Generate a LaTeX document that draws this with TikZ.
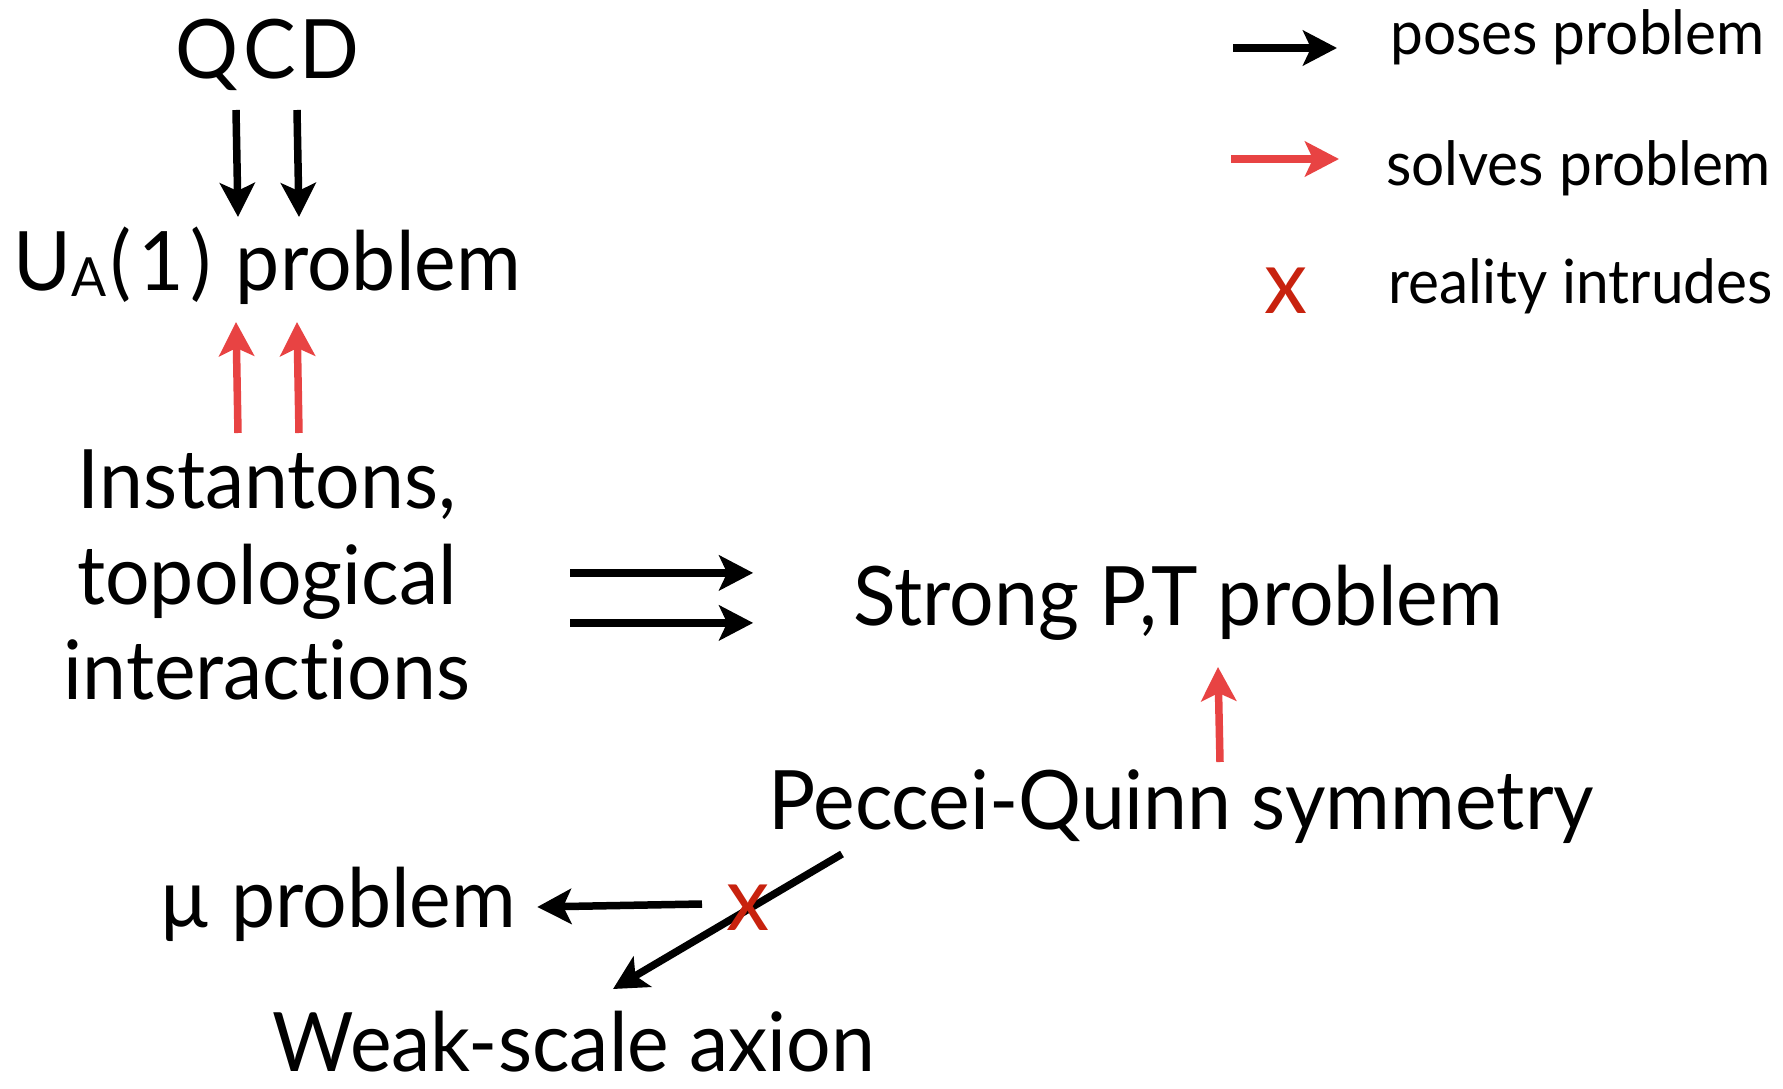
\documentclass[tikz,border=0pt]{standalone}
\usepackage{fontspec}
\setmainfont[FakeStretch=0.96, Ligatures=NoCommon]{Lato}
\usetikzlibrary{arrows.meta,calc}
\definecolor{solvered}{RGB}{232,67,67}
\definecolor{crossred}{RGB}{200,34,14}

\begin{document}
\begin{tikzpicture}[x=1pt, y=-1pt,
    term/.style={inner sep=0pt, font=\fontsize{82}{95.5}\selectfont},
    legendtext/.style={inner sep=0pt, anchor=base west, font=\fontsize{61}{70}\selectfont},
    crossmark/.style={inner sep=0pt, text=crossred, font=\fontsize{90}{90}\selectfont},
    posesarrow/.style={line width=7.5pt, -{Stealth[length=34pt, width=35pt, inset=8pt]}},
    solvesarrow/.style={posesarrow, draw=solvered}
  ]
  \useasboundingbox (0,0) rectangle (1783,1089);

  \node[term, anchor=base] (qcd) at (267.5,79) {Q\kern5pt C\kern4pt D};
  \node[term, anchor=base] (ua) at (267,290) {U\raisebox{-6pt}{\fontsize{54}{54}\selectfont A}\kern4pt(\kern7pt 1\kern7pt)\kern4pt\ problem};
  \node[term, anchor=north, align=center] (inst) at (267,450) {Instantons,\\topological\\interactions};
  \node[term, anchor=base] (strong) at (1178,625) {Strong P,T problem};
  \node[term, anchor=base] (pq) at (1181,829) {Peccei-Quinn symmetry};
  \node[term, anchor=base] (mu) at (338,927) {µ problem};
  \node[term, anchor=base] (weak) at (574,1071) {Weak-scale axion};
  \coordinate (blockpos) at (748,908);

  \node[legendtext] (lpose) at (1390,55) {poses problem};
  \node[legendtext] (lsolve) at (1386,185) {solves problem};
  \node[legendtext] (lreal) at (1388,303) {reality intrudes};

  \draw[posesarrow] ($(qcd.base)+(-31.5,31)$) -- ($(ua.base)+(-29,-73)$);
  \draw[posesarrow] ($(qcd.base)+(29.5,31)$) -- ($(ua.base)+(32,-73)$);
  \draw[solvesarrow] ($(inst.north)+(-29,-17)$) -- ($(ua.base)+(-31,32)$);
  \draw[solvesarrow] ($(inst.north)+(32,-17)$) -- ($(ua.base)+(30,32)$);

  \draw[posesarrow] ($(inst.east)+(100,-2.5)$) coordinate (d1) -- ($(strong.west |- d1)+(-100,0)$);
  \draw[posesarrow] ($(inst.east)+(100,47.5)$) coordinate (d2) -- ($(strong.west |- d2)+(-100,0)$);

  \draw[solvesarrow] ($(pq.base)+(39,-67)$) -- ($(strong.base)+(40,42)$);
  \draw[posesarrow] ($(blockpos)+(-46,-4)$) -- ($(mu.base east)+(21,-20)$);
  \draw[posesarrow] ($(pq.base west)+(74,25)$) -- ($(weak.base)+(39,-82)$);
  \node[crossmark] (block) at (blockpos) {x};

  \draw[posesarrow] ($(lpose.base west)+(-157,-7)$) -- ($(lpose.base west)+(-53,-7)$);
  \draw[solvesarrow] ($(lsolve.base west)+(-155,-26)$) -- ($(lsolve.base west)+(-47,-26)$);
  \node[crossmark] (lcross) at ($(lreal.base west)+(-102.5,-12.5)$) {x};
\end{tikzpicture}
\end{document}
